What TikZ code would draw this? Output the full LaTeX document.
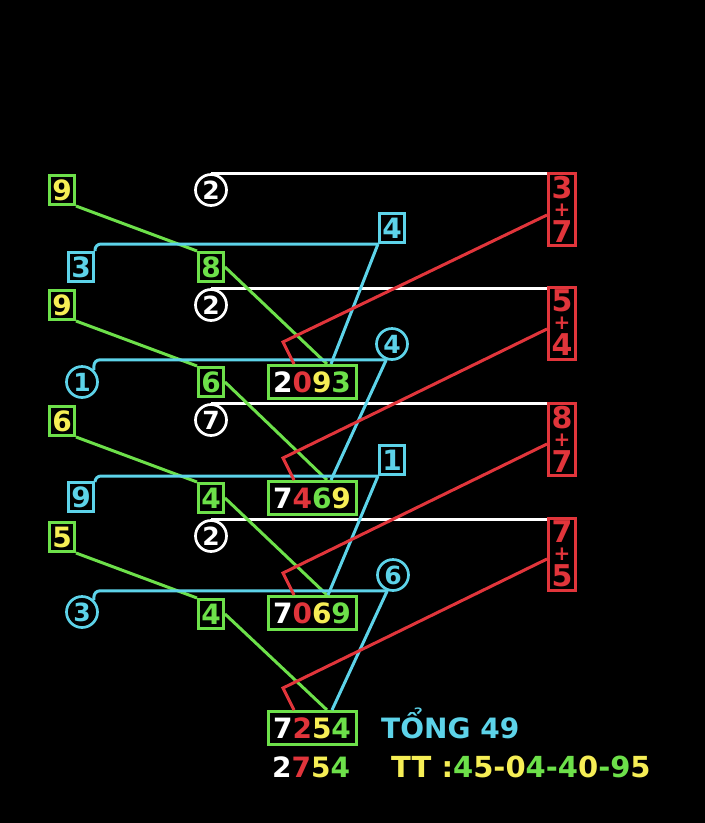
\documentclass[tikz,border=0pt]{standalone}
\usepackage{fontspec}
\setmainfont{DejaVu Sans}[BoldFont=DejaVu Sans Bold]
\definecolor{lgreen}{HTML}{6DE04A}
\definecolor{lyellow}{HTML}{F6EE55}
\definecolor{lcyan}{HTML}{5DD3E9}
\definecolor{lred}{HTML}{E1353B}
\tikzset{
  digbox/.style={draw, rectangle, line width=3pt, minimum width=25pt, minimum height=29pt, inner sep=0pt, font=\fontsize{28}{30}\selectfont\bfseries},
  ybox/.style={digbox, draw=lgreen, text=lyellow},
  gbox/.style={digbox, draw=lgreen, text=lgreen},
  cbox/.style={digbox, draw=lcyan, text=lcyan},
  ring/.style={draw, circle, line width=2.7pt, minimum size=31pt, inner sep=0pt, font=\fontsize{25}{27}\selectfont\bfseries},
  wring/.style={ring, draw=white, text=white},
  cring/.style={ring, draw=lcyan, text=lcyan},
  numbox/.style={draw=lgreen, rectangle, line width=3pt, minimum width=88pt, minimum height=33pt, inner sep=0pt, font=\fontsize{28}{30}\selectfont\bfseries},
  sumbox/.style={draw=lred, text=lred, rectangle, line width=3pt, minimum width=27pt, minimum height=72pt, inner sep=0pt, align=center, font=\fontsize{30}{22}\selectfont\bfseries},
  wline/.style={draw=white, line width=3pt},
  gline/.style={draw=lgreen, line width=3pt},
  cline/.style={draw=lcyan, line width=3pt, rounded corners=6pt},
  rline/.style={draw=lred, line width=3pt},
  txt/.style={inner sep=0pt, anchor=base west, font=\fontsize{28}{30}\selectfont\bfseries}
}
\begin{document}
\begin{tikzpicture}[x=1pt, y=-1pt]
\fill[black] (0,0) rectangle (705,823);
\useasboundingbox (0,0) rectangle (705,823);

% left column
\node[ybox] (y1) at (62,190) {9};
\node[ybox] (y2) at (62,305) {9};
\node[ybox] (y3) at (62,421) {6};
\node[ybox] (y4) at (62,537) {5};

\node[cbox] (c1) at (81,267) {3};
\node[cring] (k1) at (82,382) {1};
\node[cbox] (c3) at (81,497) {9};
\node[cring] (k3) at (82,612) {3};

% middle column
\node[wring] (w1) at (211,190) {2};
\node[wring] (w2) at (211,305) {2};
\node[wring] (w3) at (211,420) {7};
\node[wring] (w4) at (211,536) {2};

\node[gbox] (g1) at (211,267) {8};
\node[gbox] (g2) at (211,382) {6};
\node[gbox] (g3) at (211,498) {4};
\node[gbox] (g4) at (211,614) {4};

% results
\node[numbox] (n1) at (312,382) {\textcolor{white}{2}\textcolor{lred}{0}\textcolor{lyellow}{9}\textcolor{lgreen}{3}};
\node[numbox] (n2) at (312,498) {\textcolor{white}{7}\textcolor{lred}{4}\textcolor{lgreen}{6}\textcolor{lyellow}{9}};
\node[numbox] (n3) at (312,613) {\textcolor{white}{7}\textcolor{lred}{0}\textcolor{lyellow}{6}\textcolor{lgreen}{9}};
\node[numbox] (n4) at (312,728) {\textcolor{white}{7}\textcolor{lred}{2}\textcolor{lyellow}{5}\textcolor{lgreen}{4}};

% cyan marks
\node[cbox] (c2) at (392,228) {4};
\node[cring] (k2) at (392,344) {4};
\node[cbox] (c4) at (392,460) {1};
\node[cring] (k4) at (393,575) {6};

% red sums
\node[sumbox] (s1) at (562,209) {3\\[-4pt]{\fontsize{20}{0}\selectfont+}\\[4pt]7};
\node[sumbox] (s2) at (562,323) {5\\[-4pt]{\fontsize{20}{0}\selectfont+}\\[4pt]4};
\node[sumbox] (s3) at (562,439) {8\\[-4pt]{\fontsize{20}{0}\selectfont+}\\[4pt]7};
\node[sumbox] (s4) at (562,554) {7\\[-4pt]{\fontsize{20}{0}\selectfont+}\\[4pt]5};

% white lines
\draw[wline] (w1.north) -- (w1.north -| s1.west);
\draw[wline] (w2.north) -- (w2.north -| s2.west);
\draw[wline] (w3.north) -- (w3.north -| s3.west);
\draw[wline] (w4.north) -- (w4.north -| s4.west);

% green lines
\draw[gline] (y1.south east) -- (g1.north west);
\draw[gline] (g1.east) -- ([xshift=15pt]n1.north);
\draw[gline] (y2.south east) -- (g2.north west);
\draw[gline] (g2.east) -- ([xshift=15pt]n2.north);
\draw[gline] (y3.south east) -- (g3.north west);
\draw[gline] (g3.east) -- ([xshift=15pt]n3.north);
\draw[gline] (y4.south east) -- (g4.north west);
\draw[gline] (g4.east) -- ([xshift=15pt]n4.north);

% cyan lines
\draw[cline] (c1.north east) |- (c2.south west);
\draw[cline] (c2.south west) -- ([xshift=19pt]n1.north);
\draw[cline] (k1.45) |- (k2.-110);
\draw[cline] (k2.-110) -- ([xshift=19pt]n2.north);
\draw[cline] (c3.north east) |- (c4.south west);
\draw[cline] (c4.south west) -- ([xshift=16pt]n3.north);
\draw[cline] (k3.45) |- (k4.-110);
\draw[cline] (k4.-110) -- ([xshift=20pt]n4.north);

% red lines
\draw[rline] ([yshift=-6pt]s1.west) -- ([xshift=-29pt,yshift=22pt]n1.north) -- ([xshift=-18pt]n1.north);
\draw[rline] ([yshift=-6pt]s2.west) -- ([xshift=-29pt,yshift=22pt]n2.north) -- ([xshift=-18pt]n2.north);
\draw[rline] ([yshift=-5pt]s3.west) -- ([xshift=-29pt,yshift=22pt]n3.north) -- ([xshift=-18pt]n3.north);
\draw[rline] ([yshift=-5pt]s4.west) -- ([xshift=-29pt,yshift=22pt]n4.north) -- ([xshift=-18pt]n4.north);

% bottom text
\node[txt, text=lcyan] (tong) at (381,738) {TỔNG 49};
\node[txt] (kq) at (272,777) {\textcolor{white}{2}\textcolor{lred}{7}\textcolor{lyellow}{5}\textcolor{lgreen}{4}};
\node[txt, font=\fontsize{29}{31}\selectfont\bfseries] (tt) at (391,777) {\textcolor{lyellow}{TT :}\textcolor{lgreen}{4}\textcolor{lyellow}{5-0}\textcolor{lgreen}{4-4}\textcolor{lyellow}{0}\textcolor{lgreen}{-9}\textcolor{lyellow}{5}};
\end{tikzpicture}
\end{document}
